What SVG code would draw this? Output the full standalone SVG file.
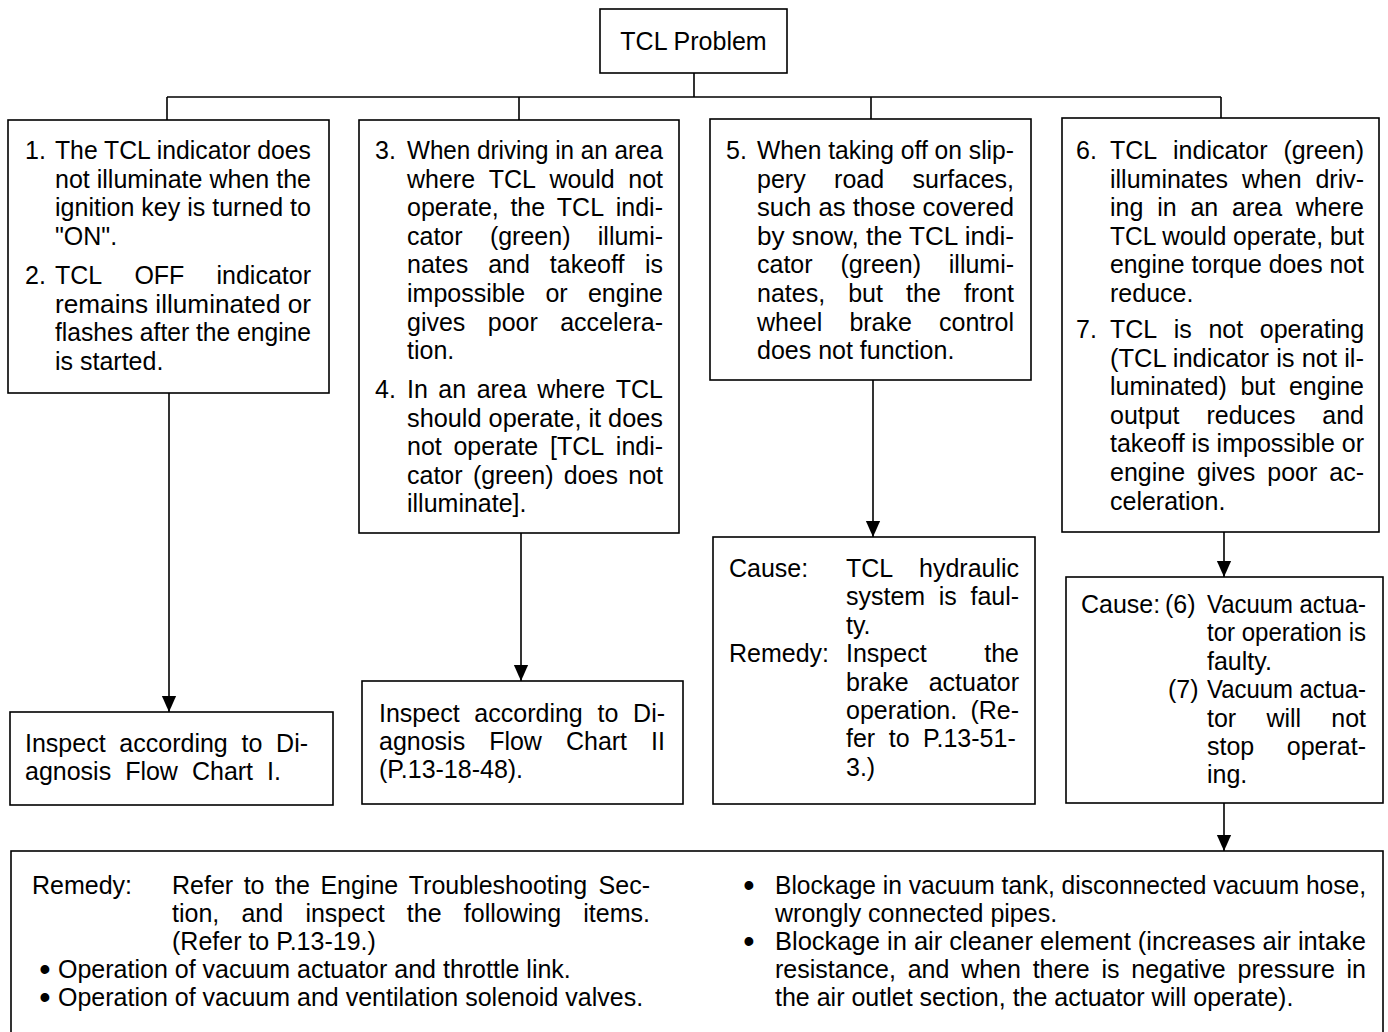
<svg xmlns="http://www.w3.org/2000/svg" width="1388" height="1032" viewBox="0 0 1388 1032">
  <style>
    .box { fill: #ffffff; stroke: #000000; stroke-width: 1.6; }
    .ln { fill: none; stroke: #000000; stroke-width: 1.6; }
    .t { font-family: "Liberation Sans", Arial, sans-serif; font-size: 25px; fill: #000000; }
    .mid { text-anchor: middle; }
    .bullet { font-family: "Liberation Sans", Arial, sans-serif; font-size: 25px; fill: #000000; stroke: #000000; stroke-width: 2; text-anchor: middle; }
  </style>
  <defs>
    <marker id="head" markerUnits="userSpaceOnUse" markerWidth="16" markerHeight="18" refX="18" refY="8" orient="auto" viewBox="0 0 18 16">
      <path d="M0,0 L18,8 L0,16 Z" fill="#000000"/>
    </marker>
  </defs>

  <rect width="1388" height="1032" fill="#ffffff"/>

  <!-- connectors -->
  <g id="connectors">
    <path class="ln" d="M694,73 V97 M167,97 H1221 M167,97 V120 M519,97 V120 M871,97 V119 M1221,97 V118"/>
    <line class="ln" x1="169" y1="393" x2="169" y2="712" marker-end="url(#head)"/>
    <line class="ln" x1="521" y1="533" x2="521" y2="681" marker-end="url(#head)"/>
    <line class="ln" x1="873" y1="380" x2="873" y2="537" marker-end="url(#head)"/>
    <line class="ln" x1="1224" y1="532" x2="1224" y2="577" marker-end="url(#head)"/>
    <line class="ln" x1="1224" y1="803" x2="1224" y2="851" marker-end="url(#head)"/>
  </g>

  <!-- root -->
  <g id="tcl-problem">
    <rect class="box" x="600" y="9" width="187" height="64"/>
    <text class="t mid" x="693.5" y="50">TCL Problem</text>
  </g>

  <!-- symptoms 1 and 2 -->
  <g id="symptom-1-2">
    <rect class="box" x="8" y="120" width="321" height="273"/>
    <text class="t" x="25" y="159">1.</text>
    <text class="t" x="55" y="159" textLength="256" lengthAdjust="spacingAndGlyphs">The TCL indicator does</text>
    <text class="t" x="55" y="187.6" textLength="256" lengthAdjust="spacingAndGlyphs">not illuminate when the</text>
    <text class="t" x="55" y="216.2" textLength="256" lengthAdjust="spacingAndGlyphs">ignition key is turned to</text>
    <text class="t" x="55" y="244.8">"ON".</text>
    <text class="t" x="25" y="284">2.</text>
    <text class="t" y="284"><tspan x="55">TCL</tspan><tspan x="134.4">OFF</tspan><tspan x="216.5">indicator</tspan></text>
    <text class="t" x="55" y="312.6" textLength="256" lengthAdjust="spacingAndGlyphs">remains illuminated or</text>
    <text class="t" x="55" y="341.2" textLength="256" lengthAdjust="spacingAndGlyphs">flashes after the engine</text>
    <text class="t" x="55" y="369.8">is started.</text>
  </g>

  <!-- symptoms 3 and 4 -->
  <g id="symptom-3-4">
    <rect class="box" x="359" y="120" width="320" height="413"/>
    <text class="t" x="375" y="159">3.</text>
    <text class="t" x="407" y="159" textLength="256" lengthAdjust="spacingAndGlyphs">When driving in an area</text>
    <text class="t" y="187.6"><tspan x="407">where</tspan><tspan x="488.65">TCL</tspan><tspan x="549.4">would</tspan><tspan x="628.25">not</tspan></text>
    <text class="t" y="216.2"><tspan x="407">operate,</tspan><tspan x="510.4">the</tspan><tspan x="556.85">TCL</tspan><tspan x="615.75">indi-</tspan></text>
    <text class="t" y="244.8"><tspan x="407">cator</tspan><tspan x="489.9">(green)</tspan><tspan x="597.8">illumi-</tspan></text>
    <text class="t" y="273.4"><tspan x="407">nates</tspan><tspan x="488.15">and</tspan><tspan x="549.85">takeoff</tspan><tspan x="644.9">is</tspan></text>
    <text class="t" y="302"><tspan x="407">impossible</tspan><tspan x="545.4">or</tspan><tspan x="587.9">engine</tspan></text>
    <text class="t" y="330.6"><tspan x="407">gives</tspan><tspan x="487.75">poor</tspan><tspan x="560.15">accelera-</tspan></text>
    <text class="t" x="407" y="359.2">tion.</text>
    <text class="t" x="375" y="398">4.</text>
    <text class="t" y="398"><tspan x="407">In</tspan><tspan x="438.35">an</tspan><tspan x="476.65">area</tspan><tspan x="537.15">where</tspan><tspan x="615.75">TCL</tspan></text>
    <text class="t" x="407" y="426.5" textLength="256" lengthAdjust="spacingAndGlyphs">should operate, it does</text>
    <text class="t" y="455"><tspan x="407">not</tspan><tspan x="453.45">operate</tspan><tspan x="549.95">[TCL</tspan><tspan x="615.85">indi-</tspan></text>
    <text class="t" y="483.5"><tspan x="407">cator</tspan><tspan x="472.9">(green)</tspan><tspan x="563.8">does</tspan><tspan x="628.3">not</tspan></text>
    <text class="t" x="407" y="512">illuminate].</text>
  </g>

  <!-- symptom 5 -->
  <g id="symptom-5">
    <rect class="box" x="710" y="119" width="321" height="261"/>
    <text class="t" x="726" y="159">5.</text>
    <text class="t" x="757" y="159" textLength="257" lengthAdjust="spacingAndGlyphs">When taking off on slip-</text>
    <text class="t" y="187.6"><tspan x="757">pery</tspan><tspan x="834.1">road</tspan><tspan x="912.6">surfaces,</tspan></text>
    <text class="t" x="757" y="216.2" textLength="257" lengthAdjust="spacingAndGlyphs">such as those covered</text>
    <text class="t" x="757" y="244.8" textLength="257" lengthAdjust="spacingAndGlyphs">by snow, the TCL indi-</text>
    <text class="t" y="273.4"><tspan x="757">cator</tspan><tspan x="840.4">(green)</tspan><tspan x="948.8">illumi-</tspan></text>
    <text class="t" y="302"><tspan x="757">nates,</tspan><tspan x="848.2">but</tspan><tspan x="906.05">the</tspan><tspan x="963.9">front</tspan></text>
    <text class="t" y="330.6"><tspan x="757">wheel</tspan><tspan x="849.4">brake</tspan><tspan x="939">control</tspan></text>
    <text class="t" x="757" y="359.2">does not function.</text>
  </g>

  <!-- symptoms 6 and 7 -->
  <g id="symptom-6-7">
    <rect class="box" x="1062" y="118" width="317" height="414"/>
    <text class="t" x="1076" y="159">6.</text>
    <text class="t" y="159"><tspan x="1110">TCL</tspan><tspan x="1173.05">indicator</tspan><tspan x="1283.4">(green)</tspan></text>
    <text class="t" y="187.6"><tspan x="1110">illuminates</tspan><tspan x="1241.9">when</tspan><tspan x="1315.45">driv-</tspan></text>
    <text class="t" y="216.2"><tspan x="1110">ing</tspan><tspan x="1157.15">in</tspan><tspan x="1190.4">an</tspan><tspan x="1232">area</tspan><tspan x="1295.8">where</tspan></text>
    <text class="t" x="1110" y="244.8" textLength="254" lengthAdjust="spacingAndGlyphs">TCL would operate, but</text>
    <text class="t" x="1110" y="273.4" textLength="254" lengthAdjust="spacingAndGlyphs">engine torque does not</text>
    <text class="t" x="1110" y="302">reduce.</text>
    <text class="t" x="1076" y="338">7.</text>
    <text class="t" y="338"><tspan x="1110">TCL</tspan><tspan x="1173.8">is</tspan><tspan x="1208.45">not</tspan><tspan x="1259.8">operating</tspan></text>
    <text class="t" x="1110" y="366.6" textLength="254" lengthAdjust="spacingAndGlyphs">(TCL indicator is not il-</text>
    <text class="t" y="395.2"><tspan x="1110">luminated)</tspan><tspan x="1240.45">but</tspan><tspan x="1288.95">engine</tspan></text>
    <text class="t" y="423.8"><tspan x="1110">output</tspan><tspan x="1206.45">reduces</tspan><tspan x="1322.3">and</tspan></text>
    <text class="t" x="1110" y="452.4" textLength="254" lengthAdjust="spacingAndGlyphs">takeoff is impossible or</text>
    <text class="t" y="481"><tspan x="1110">engine</tspan><tspan x="1197">gives</tspan><tspan x="1267.3">poor</tspan><tspan x="1329.3">ac-</tspan></text>
    <text class="t" x="1110" y="509.6">celeration.</text>
  </g>

  <!-- result: flow chart I -->
  <g id="flow-chart-1">
    <rect class="box" x="10" y="712" width="323" height="93"/>
    <text class="t" y="752"><tspan x="25">Inspect</tspan><tspan x="119.35">according</tspan><tspan x="241.5">to</tspan><tspan x="276.1">Di-</tspan></text>
    <text class="t" y="780"><tspan x="25">agnosis</tspan><tspan x="125.15">Flow</tspan><tspan x="191.95">Chart</tspan><tspan x="267.05">I.</tspan></text>
  </g>

  <!-- result: flow chart II -->
  <g id="flow-chart-2">
    <rect class="box" x="362" y="681" width="321" height="123"/>
    <text class="t" y="722"><tspan x="379">Inspect</tspan><tspan x="474.35">according</tspan><tspan x="597.5">to</tspan><tspan x="633.1">Di-</tspan></text>
    <text class="t" y="750"><tspan x="379">agnosis</tspan><tspan x="489.15">Flow</tspan><tspan x="565.95">Chart</tspan><tspan x="651.05">II</tspan></text>
    <text class="t" x="379" y="778">(P.13-18-48).</text>
  </g>

  <!-- result: hydraulic system -->
  <g id="hydraulic-cause">
    <rect class="box" x="713" y="537" width="322" height="267"/>
    <text class="t" x="729" y="577">Cause:</text>
    <text class="t" y="577"><tspan x="846">TCL</tspan><tspan x="919">hydraulic</tspan></text>
    <text class="t" y="605.4"><tspan x="846">system</tspan><tspan x="938.8">is</tspan><tspan x="970.45">faul-</tspan></text>
    <text class="t" x="846" y="633.8">ty.</text>
    <text class="t" x="729" y="662.2">Remedy:</text>
    <text class="t" y="662.2"><tspan x="846">Inspect</tspan><tspan x="984.25">the</tspan></text>
    <text class="t" y="690.6"><tspan x="846">brake</tspan><tspan x="928.7">actuator</tspan></text>
    <text class="t" y="719"><tspan x="846">operation.</tspan><tspan x="970.4">(Re-</tspan></text>
    <text class="t" y="747.4"><tspan x="846">fer</tspan><tspan x="888.7">to</tspan><tspan x="923.05">P.13-51-</tspan></text>
    <text class="t" x="846" y="775.8">3.)</text>
  </g>

  <!-- result: vacuum actuator -->
  <g id="vacuum-cause">
    <rect class="box" x="1066" y="577" width="317" height="226"/>
    <text class="t" x="1081" y="613">Cause:</text>
    <text class="t" x="1165" y="613">(6)</text>
    <text class="t" x="1207" y="613" textLength="159" lengthAdjust="spacingAndGlyphs">Vacuum actua-</text>
    <text class="t" x="1207" y="641.4" textLength="159" lengthAdjust="spacingAndGlyphs">tor operation is</text>
    <text class="t" x="1207" y="669.8">faulty.</text>
    <text class="t" x="1168" y="698.2">(7)</text>
    <text class="t" x="1207" y="698.2" textLength="159" lengthAdjust="spacingAndGlyphs">Vacuum actua-</text>
    <text class="t" y="726.6"><tspan x="1207">tor</tspan><tspan x="1266.4">will</tspan><tspan x="1331.3">not</tspan></text>
    <text class="t" y="755"><tspan x="1207">stop</tspan><tspan x="1286.8">operat-</tspan></text>
    <text class="t" x="1207" y="783.4">ing.</text>
  </g>

  <!-- engine remedy -->
  <g id="engine-remedy">
    <rect class="box" x="11" y="851" width="1372" height="200"/>
    <text class="t" x="32" y="894">Remedy:</text>
    <text class="t" y="894"><tspan x="172">Refer</tspan><tspan x="243.67">to</tspan><tspan x="275.09">the</tspan><tspan x="320.41">Engine</tspan><tspan x="408.78">Troubleshooting</tspan><tspan x="598.6">Sec-</tspan></text>
    <text class="t" y="922"><tspan x="172">tion,</tspan><tspan x="241.48">and</tspan><tspan x="305.41">inspect</tspan><tspan x="406.84">the</tspan><tspan x="463.82">following</tspan><tspan x="583.3">items.</tspan></text>
    <text class="t" x="172" y="950">(Refer to P.13-19.)</text>
    <text class="bullet" x="45" y="978">•</text>
    <text class="t" x="58" y="978">Operation of vacuum actuator and throttle link.</text>
    <text class="bullet" x="45" y="1006">•</text>
    <text class="t" x="58" y="1006">Operation of vacuum and ventilation solenoid valves.</text>
    <text class="bullet" x="749" y="894">•</text>
    <text class="t" x="775" y="894" textLength="591" lengthAdjust="spacingAndGlyphs">Blockage in vacuum tank, disconnected vacuum hose,</text>
    <text class="t" x="775" y="922">wrongly connected pipes.</text>
    <text class="bullet" x="749" y="950">•</text>
    <text class="t" x="775" y="950" textLength="591" lengthAdjust="spacingAndGlyphs">Blockage in air cleaner element (increases air intake</text>
    <text class="t" y="978"><tspan x="775">resistance,</tspan><tspan x="907.67">and</tspan><tspan x="961.14">when</tspan><tspan x="1032.66">there</tspan><tspan x="1101.43">is</tspan><tspan x="1131.25">negative</tspan><tspan x="1237.52">pressure</tspan><tspan x="1346.54">in</tspan></text>
    <text class="t" x="775" y="1006">the air outlet section, the actuator will operate).</text>
  </g>
</svg>
